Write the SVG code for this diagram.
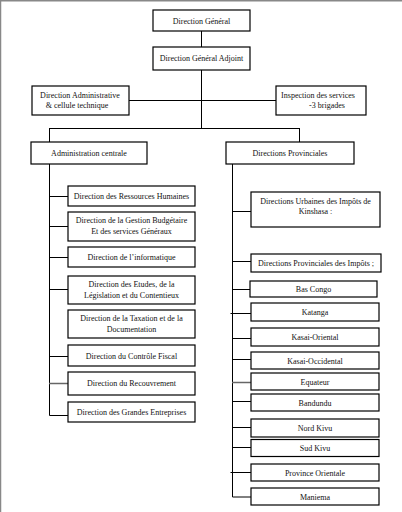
<svg xmlns="http://www.w3.org/2000/svg" width="402" height="512" viewBox="0 0 402 512">
<style>
.b{fill:#fff;stroke:#000;stroke-width:1.2}
.t{font-family:"Liberation Serif","Times New Roman",serif;font-size:8px;fill:#111;text-anchor:middle}
.c{fill:none;stroke:#000;stroke-width:1}
.g{fill:none;stroke:#666;stroke-width:1.5}
</style>
<rect width="402" height="512" fill="#fff"/>
<path d="M0.5 512V0.8H402" fill="none" stroke="#888" stroke-width="1.5"/>
<g id="connectors">
<path class="c" d="M201.5 31V47M201.5 70V128M129 100.5H276M49.5 128.5H299.5M49.5 128V142M299.5 128V142"/>
<path class="c" d="M49.5 164V415.5H68M49.5 196.5H68M49.5 226.5H68M49.5 257.5H68M49.5 289.5H68M49.5 356.5H68"/>
<path class="g" d="M49 383.5H68"/>
<path class="c" d="M232.5 164V497H251M232.5 211.5H251M232.5 261.5H251M232.5 289.5H250M230.5 313.5H251M232.5 338.5H251M232.5 359.5H251M232.5 401.5H251M232.5 427.5H251M232.5 447.5H251M230.5 472.5H251"/>
<path class="g" d="M232 382.5H252"/>
</g>
<g id="n1"><rect class="b" x="153" y="10" width="97" height="21"/><text class="t" x="201.5" y="23.5">Direction Général</text></g>
<g id="n2"><rect class="b" x="153" y="47" width="97" height="23"/><text class="t" x="201.5" y="61">Direction Général Adjoint</text></g>
<g id="n3"><rect class="b" x="32" y="86" width="97" height="29"/><text class="t" x="80" y="98">Direction Administrative</text><text class="t" x="77" y="108">&amp; cellule technique</text></g>
<g id="n4"><rect class="b" x="276" y="86" width="90" height="29"/><text class="t" x="318" y="98">Inspection des services</text><text class="t" x="327" y="108">-3 brigades</text></g>
<g id="n5"><rect class="b" x="31" y="142" width="116" height="22"/><text class="t" x="89" y="155.5">Administration centrale</text></g>
<g id="n6"><rect class="b" x="226" y="142" width="128" height="22"/><text class="t" x="290" y="155.5">Directions Provinciales</text></g>
<g id="n7"><rect class="b" x="68" y="186" width="127" height="20"/><text class="t" x="131.5" y="198.5">Direction des Ressources Humaines</text></g>
<g id="n8"><rect class="b" x="68" y="212" width="127" height="29"/><text class="t" x="131.5" y="223">Direction de la Gestion Budgétaire</text><text class="t" x="131.5" y="233.5">Et des services Généraux</text></g>
<g id="n9"><rect class="b" x="68" y="247" width="127" height="20"/><text class="t" x="131.5" y="259.5">Direction de l’informatique</text></g>
<g id="n10"><rect class="b" x="68" y="276" width="127" height="28"/><text class="t" x="131.5" y="287">Direction des Etudes, de la</text><text class="t" x="131.5" y="297.5">Législation et du Contentieux</text></g>
<g id="n11"><rect class="b" x="68" y="310" width="127" height="28"/><text class="t" x="131.5" y="321">Direction de la Taxation et de la</text><text class="t" x="131.5" y="331.5">Documentation</text></g>
<g id="n12"><rect class="b" x="68" y="345" width="127" height="21"/><text class="t" x="131.5" y="358.5">Direction du Contrôle Fiscal</text></g>
<g id="n13"><rect class="b" x="68" y="372" width="127" height="23"/><text class="t" x="131.5" y="386">Direction du Recouvrement</text></g>
<g id="n14"><rect class="b" x="68" y="402" width="127" height="20"/><text class="t" x="131.5" y="414.5">Direction des Grandes Entreprises</text></g>
<g id="n15"><rect class="b" x="251" y="192" width="129" height="35"/><text class="t" x="315.5" y="203.5">Directions Urbaines des Impôts de</text><text class="t" x="315.5" y="214">Kinshasa :</text></g>
<g id="n16"><rect class="b" x="251" y="254" width="130" height="18"/><text class="t" x="316" y="265.5">Directions Provinciales des Impôts ;</text></g>
<g id="n17"><rect class="b" x="250" y="281" width="127" height="16"/><text class="t" x="313.5" y="292">Bas Congo</text></g>
<g id="n18"><rect class="b" x="251" y="303" width="128" height="18"/><text class="t" x="315" y="315">Katanga</text></g>
<g id="n19"><rect class="b" x="251" y="328" width="128" height="18"/><text class="t" x="315" y="340">Kasai-Oriental</text></g>
<g id="n20"><rect class="b" x="251" y="352" width="128" height="17"/><text class="t" x="315" y="363.5">Kasai-Occidental</text></g>
<g id="n21"><rect class="b" x="251" y="373" width="128" height="17"/><text class="t" x="315" y="384.5">Equateur</text></g>
<g id="n22"><rect class="b" x="251" y="394" width="128" height="17"/><text class="t" x="315" y="405.5">Bandundu</text></g>
<g id="n23"><rect class="b" x="251" y="419" width="128" height="18"/><text class="t" x="315" y="431">Nord Kivu</text></g>
<g id="n24"><rect class="b" x="251" y="439.5" width="128" height="17"/><text class="t" x="315" y="451">Sud Kivu</text></g>
<g id="n25"><rect class="b" x="251" y="464" width="128" height="17"/><text class="t" x="315" y="475.5">Province Orientale</text></g>
<g id="n26"><rect class="b" x="251" y="488" width="128" height="17"/><text class="t" x="315" y="499.5">Maniema</text></g>
</svg>
